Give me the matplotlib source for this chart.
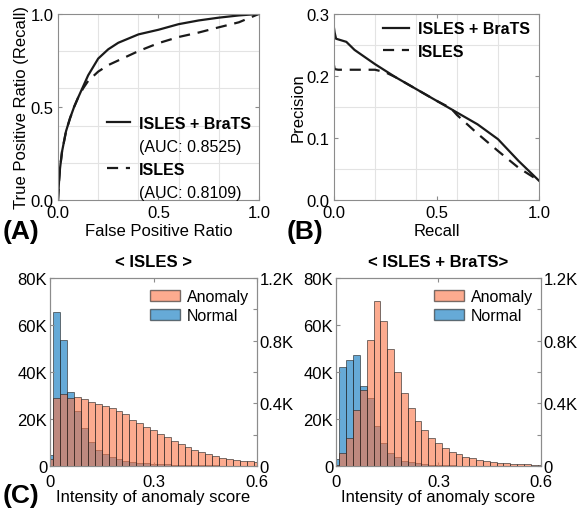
import numpy as np
import matplotlib
matplotlib.use("Agg")
import matplotlib.pyplot as plt
from matplotlib.lines import Line2D
from matplotlib.patches import Patch
from matplotlib.ticker import FuncFormatter, MultipleLocator

plt.rcParams['font.family'] = ['Liberation Sans', 'DejaVu Sans']
plt.rcParams['font.size'] = 12

# ROC curves
fpr_both = [0, 0.005, 0.01, 0.02, 0.04, 0.06, 0.08, 0.1, 0.125, 0.15, 0.2, 0.25, 0.3, 0.4, 0.5, 0.6, 0.7, 0.8, 0.9, 1.0]
tpr_both = [0, 0.1, 0.17, 0.26, 0.37, 0.44, 0.5, 0.55, 0.61, 0.67, 0.76, 0.81, 0.845, 0.89, 0.915, 0.945, 0.965, 0.98, 0.992, 1.0]
fpr_isles = [0, 0.005, 0.01, 0.02, 0.04, 0.06, 0.08, 0.1, 0.125, 0.15, 0.2, 0.25, 0.3, 0.4, 0.5, 0.6, 0.7, 0.8, 0.9, 1.0]
tpr_isles = [0, 0.1, 0.17, 0.26, 0.37, 0.44, 0.5, 0.55, 0.6, 0.64, 0.69, 0.725, 0.75, 0.8, 0.843, 0.876, 0.9, 0.928, 0.955, 1.0]

# precision-recall curves
recall_both = [0, 0.003, 0.01, 0.03, 0.06, 0.1, 0.2, 0.3, 0.4, 0.5, 0.6, 0.7, 0.8, 0.9, 1.0]
prec_both = [0.277, 0.27, 0.26, 0.258, 0.255, 0.242, 0.219, 0.198, 0.179, 0.16, 0.141, 0.122, 0.098, 0.063, 0.031]
recall_isles = [0, 0.003, 0.02, 0.1, 0.2, 0.25, 0.3, 0.4, 0.5, 0.57, 0.6, 0.7, 0.8, 0.9, 1.0]
prec_isles = [0.217, 0.211, 0.21, 0.21, 0.21, 0.206, 0.198, 0.179, 0.16, 0.148, 0.137, 0.107, 0.079, 0.052, 0.031]

# histograms, bins of width 0.02 centred on 0, 0.02, ..., 0.6
bin_centers = [round(0.02 * k, 2) for k in range(31)]
# normal counts (left axis), anomaly counts (right axis)
normal_isles = [4500, 65400, 53700, 31600, 23500, 16100, 10300, 6900, 4900, 3700, 2800, 2200, 1800, 1400, 1100,
                900, 800, 700, 600, 500, 450, 400, 350, 300, 250, 200, 200, 150, 100, 100, 100]
anomaly_isles = [45, 435, 459, 435, 438, 429, 408, 393, 380, 368, 353, 330, 294, 272, 249,
                 228, 206, 186, 161, 143, 123, 105, 92, 77, 63, 54, 47, 41, 35, 29, 26]
normal_both = [3000, 42200, 45100, 47400, 34100, 28800, 16900, 9600, 5600, 3700, 2300, 1800, 1300, 900, 600,
               450, 350, 250, 200, 150, 120, 100, 80, 60, 50, 40, 30, 20, 20, 10, 10]
anomaly_both = [5, 83, 177, 357, 483, 804, 1056, 927, 749, 597, 464, 371, 288, 233, 180,
                144, 114, 90, 74, 59, 48, 41, 32, 26, 21, 17, 15, 13, 11, 8, 8]

spine_col = '#8c8c8c'
line_col = '#1a1a1a'
dash = (0, (5, 3.5))
blue = (0.0, 0.447, 0.741)
orange = (0.98, 0.45, 0.27)

fig = plt.figure(figsize=(5.79, 5.10), dpi=100)


def style_axes(ax):
    for s in ax.spines.values():
        s.set_color(spine_col)
        s.set_linewidth(0.8)
    ax.tick_params(direction='in', length=3, color=spine_col, labelsize=12, pad=3,
                   top=True, right=True, which='both')
    ax.tick_params(axis='x', pad=4)
    ax.tick_params(which='minor', length=0)


# (A) ROC
ax = fig.add_axes([0.1002, 0.606, 0.347, 0.3647])
style_axes(ax)
ax.plot(fpr_both, tpr_both, color=line_col, lw=1.6)
ax.plot(fpr_isles, tpr_isles, color=line_col, lw=1.6, ls=dash)
ax.set_xlim(0, 1)
ax.set_ylim(0, 1)
ax.set_xticks([0, 0.5, 1.0])
ax.set_yticks([0, 0.5, 1.0])
ax.xaxis.set_minor_locator(MultipleLocator(0.2))
ax.yaxis.set_minor_locator(MultipleLocator(0.2))
ax.grid(True, which='minor', color='#e3e3e3', lw=0.8)
ax.set_xlabel('False Positive Ratio', labelpad=2)
ax.set_ylabel('True Positive Ratio (Recall)', labelpad=1)
handles = [Line2D([], [], color=line_col, lw=1.6),
           Line2D([], [], color='none'),
           Line2D([], [], color=line_col, lw=1.6, ls=dash),
           Line2D([], [], color='none')]
leg = ax.legend(handles, ['ISLES + BraTS', '(AUC: 0.8525)', 'ISLES', '(AUC: 0.8109)'],
                loc='lower right', bbox_to_anchor=(0.96, 0.0), frameon=False,
                handlelength=1.45, handletextpad=0.55, labelspacing=0.5,
                borderaxespad=0, borderpad=0, fontsize=11.5)
for i in (0, 2):
    leg.get_texts()[i].set_fontweight('bold')
fig.text(0.005, 0.545, '(A)', fontsize=19, fontweight='bold', va='center')

# (B) precision-recall
ax = fig.add_axes([0.5769, 0.606, 0.354, 0.3647])
style_axes(ax)
ax.plot(recall_both, prec_both, color=line_col, lw=1.6, label='ISLES + BraTS')
ax.plot(recall_isles, prec_isles, color=line_col, lw=1.6, ls=dash, label='ISLES')
ax.set_xlim(0, 1)
ax.set_ylim(0, 0.3)
ax.set_xticks([0, 0.5, 1.0])
ax.set_yticks([0, 0.1, 0.2, 0.3])
ax.xaxis.set_minor_locator(MultipleLocator(0.2))
ax.yaxis.set_minor_locator(MultipleLocator(0.05))
ax.grid(True, which='minor', color='#e3e3e3', lw=0.8)
ax.set_xlabel('Recall', labelpad=2)
ax.set_ylabel('Precision', labelpad=1)
leg = ax.legend(loc='upper right', bbox_to_anchor=(0.955, 0.96), frameon=False,
                handlelength=1.6, handletextpad=0.55, labelspacing=0.45,
                borderaxespad=0, borderpad=0, fontsize=11.5)
for t in leg.get_texts():
    t.set_fontweight('bold')
fig.text(0.495, 0.545, '(B)', fontsize=19, fontweight='bold', va='center')


# (C) histograms
def k_fmt(v, pos):
    if v == 0:
        return '0'
    return f'{v / 1000:g}K'


def right_fmt(v, pos):
    if abs(v) < 1e-6:
        return '0'
    if round(v) % 400 != 0:
        return ''
    return f'{v / 1000:g}K'


def draw_hist(rect, normal, anomaly, title):
    ax = fig.add_axes(rect)
    ax.bar(bin_centers, normal, width=0.02, color=blue, alpha=0.6,
           edgecolor='#222222', linewidth=0.7)
    ax.set_xlim(0, 0.6)
    ax.set_ylim(0, 80000)
    ax.set_xticks([0, 0.3, 0.6])
    ax.set_xticklabels(['0', '0.3', '0.6'])
    ax.set_yticks([0, 20000, 40000, 60000, 80000])
    ax.yaxis.set_major_formatter(FuncFormatter(k_fmt))
    ax2 = ax.twinx()
    ax2.bar(bin_centers, anomaly, width=0.02, color=orange, alpha=0.6,
            edgecolor='#222222', linewidth=0.7)
    ax2.set_ylim(0, 1200)
    ax2.set_yticks(np.arange(0, 1201, 200))
    ax2.yaxis.set_major_formatter(FuncFormatter(right_fmt))
    for a in (ax, ax2):
        for s in a.spines.values():
            s.set_color(spine_col)
            s.set_linewidth(0.8)
    ax.tick_params(direction='in', length=3, color=spine_col, labelsize=12, pad=2, top=True)
    ax.tick_params(axis='x', pad=5.5)
    ax.tick_params(axis='y', right=False)
    ax2.tick_params(direction='in', length=3, color=spine_col, labelsize=12, pad=2)
    ax.set_xlabel('Intensity of anomaly score', labelpad=0)
    ax.set_title(title, fontweight='bold', fontsize=12, pad=9)
    handles = [Patch(facecolor=orange, alpha=0.6, edgecolor='#222222'),
               Patch(facecolor=blue, alpha=0.6, edgecolor='#222222')]
    ax2.legend(handles, ['Anomaly', 'Normal'], loc='upper right', bbox_to_anchor=(0.96, 0.94),
               frameon=False, handlelength=1.9, handleheight=0.63, handletextpad=0.4,
               labelspacing=0.25, borderaxespad=0, borderpad=0, fontsize=11.5)


draw_hist([0.0864, 0.0843, 0.3575, 0.3686], normal_isles, anomaly_isles, '< ISLES >')
draw_hist([0.5803, 0.0843, 0.354, 0.3686], normal_both, anomaly_both, '< ISLES + BraTS>')
fig.text(0.005, 0.028, '(C)', fontsize=19, fontweight='bold', va='center')

fig.savefig('out.png', dpi=100)
